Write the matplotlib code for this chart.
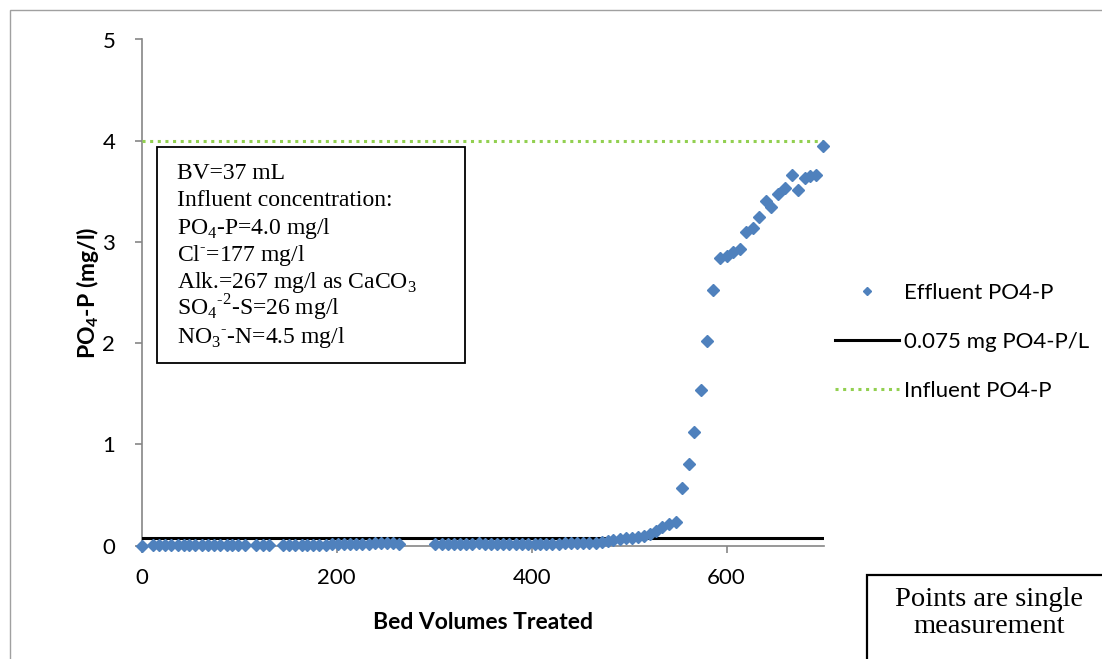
import matplotlib.pyplot as plt
from matplotlib.patches import Rectangle
from matplotlib.lines import Line2D

plt.rcParams['mathtext.fontset'] = 'custom'
plt.rcParams['mathtext.rm'] = 'Liberation Serif'
plt.rcParams['mathtext.bf'] = 'Lato:bold'

# effluent breakthrough data
bed_volumes = [0,
               12, 18, 24, 30, 37, 43, 49, 55, 62, 68, 74, 80, 87, 93, 99, 106,
               117, 124, 131,
               145, 151, 157, 164, 170, 176, 182, 189, 195, 201, 208, 214, 220,
               226, 233, 239, 245, 252, 258, 264,
               301, 308, 314, 320, 327, 333, 339, 346, 352, 358, 365, 371, 377,
               384, 390, 396, 403, 409, 415, 421, 428, 434, 440, 447, 453, 459,
               466, 472, 478, 484, 491, 497, 503, 509, 515, 521, 528, 534, 541,
               548, 554, 561, 567, 574, 580, 586, 593, 600, 607, 614, 620, 627,
               633, 640, 646, 653, 660, 667, 673, 680, 686, 692, 699]
effluent = [0.0,
            0.005, 0.005, 0.005, 0.005, 0.005, 0.005, 0.005, 0.005, 0.005, 0.005,
            0.005, 0.005, 0.005, 0.005, 0.005, 0.005,
            0.008, 0.008, 0.008,
            0.008, 0.008, 0.008, 0.008, 0.01, 0.01, 0.01, 0.01, 0.012, 0.012,
            0.015, 0.015, 0.018, 0.02, 0.02, 0.022, 0.025, 0.025, 0.022, 0.02,
            0.015, 0.015, 0.015, 0.018, 0.018, 0.02, 0.02, 0.022, 0.02, 0.02,
            0.018, 0.018, 0.018, 0.02, 0.02, 0.02, 0.02, 0.02, 0.02, 0.02, 0.02,
            0.022, 0.022, 0.025, 0.025, 0.025,
            0.03, 0.04, 0.05, 0.06, 0.07, 0.08, 0.08, 0.09, 0.1, 0.12, 0.15,
            0.18, 0.21, 0.23, 0.57, 0.81, 1.12, 1.54, 2.02, 2.53, 2.84, 2.86,
            2.9, 2.93, 3.1, 3.14, 3.25, 3.4, 3.35, 3.47, 3.53, 3.66, 3.51, 3.63,
            3.65, 3.66, 3.95]
limit_x = [0, 700]
limit_y = [0.075, 0.075]
influent_x = [0, 700]
influent_y = [4.0, 4.0]

box_lines = ['BV=37 mL', 'Influent concentration:', r'PO$_4$-P=4.0 mg/l',
             r'Cl$^{\text{-}}$=177 mg/l', r'Alk.=267 mg/l as CaCO$_3$',
             r'SO$_4$$^{\text{-2}}$-S=26 mg/l', r'NO$_3$$^{\text{-}}$-N=4.5 mg/l']

W, H = 1102, 659
fig = plt.figure(figsize=(W / 100, H / 100), dpi=100)
ax = fig.add_axes([141.7 / W, 1 - 545.7 / H, (824 - 141.7) / W, (545.7 - 39.5) / H])

grey = '#868686'
ax.plot(bed_volumes, effluent, linestyle='none', marker='D', markersize=5.7,
        color='#4F81BD', clip_on=False, zorder=4, label='Effluent PO4-P')
ax.plot(limit_x, limit_y, color='black', linewidth=2.2, zorder=3,
        label='0.075 mg PO4-P/L')
ax.plot(influent_x, influent_y, color='#92D050', linewidth=2.2,
        linestyle=(0, (1, 1.5)), zorder=3, label='Influent PO4-P')

ax.set_xlim(0, 700)
ax.set_ylim(0, 5)
ax.set_xticks([0, 200, 400, 600])
ax.set_yticks([0, 1, 2, 3, 4, 5])
for s in ['top', 'right']:
    ax.spines[s].set_visible(False)
for s in ['left', 'bottom']:
    ax.spines[s].set_color(grey)
    ax.spines[s].set_linewidth(1.2)
ax.tick_params(colors=grey, labelcolor='black', length=5, width=1.2,
               direction='out', labelsize=16)
for lab in ax.get_xticklabels() + ax.get_yticklabels():
    lab.set_family('Lato')
ax.tick_params(axis='x', pad=11)
ax.tick_params(axis='y', pad=14)

ax.set_xlabel('Bed Volumes Treated', family='Lato', fontweight='bold',
              fontsize=16.5, labelpad=17)
ax.set_ylabel(r'PO$_\mathbf{4}$-P (mg/l)', family='Lato', fontweight='bold',
              fontsize=16.5, labelpad=1)

# legend on the right
handles = [Line2D([], [], linestyle='none', marker='D', markersize=4.5,
                  color='#4F81BD'),
           Line2D([], [], color='black', linewidth=2.2),
           Line2D([], [], color='#92D050', linewidth=2.2,
                  linestyle=(0, (1, 1.5)))]
labels = ['Effluent PO4-P', '0.075 mg PO4-P/L', 'Influent PO4-P']
fig.legend(handles, labels, loc='upper left',
           bbox_to_anchor=(826 / W, 1 - 274 / H), frameon=False,
           prop={'family': 'Lato', 'size': 16}, handlelength=2.9,
           handletextpad=0.2, labelspacing=1.3, borderaxespad=0)

# info box
fig.patches.append(Rectangle((157 / W, 1 - 363 / H), (465 - 157) / W,
                             (363 - 147) / H, transform=fig.transFigure,
                             fill=False, edgecolor='black', linewidth=1.3))
for i, line in enumerate(box_lines):
    fig.text(177 / W, 1 - (179 + 27.3 * i) / H, line, ha='left',
             va='baseline', family='Liberation Serif', fontsize=17)

# note box at the bottom right
fig.patches.append(Rectangle((867 / W, 1 - 700 / H), 300 / W, 125 / H,
                             transform=fig.transFigure, fill=False,
                             edgecolor='black', linewidth=1.6))
fig.text(989 / W, 1 - 613 / H, 'Points are single\nmeasurement', ha='center',
         va='center', family='Liberation Serif', fontsize=20.5, linespacing=1.15)

# chart border
fig.patches.append(Rectangle((10 / W, -0.1), 1.2, 1.1 - 10 / H,
                             transform=fig.transFigure, fill=False,
                             edgecolor='#a0a0a0', linewidth=1))

fig.savefig('out.png', dpi=100)
